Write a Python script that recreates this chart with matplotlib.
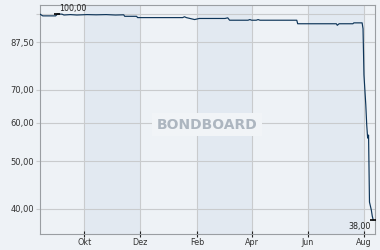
import numpy as np
import pandas as pd
import matplotlib
matplotlib.use("Agg")
from matplotlib import pyplot as plt

# price history (percent of nominal)
dates = ["2022-08-14", "2022-08-17", "2022-08-31", "2022-09-02", "2022-09-07",
         "2022-09-09", "2022-09-16", "2022-09-23", "2022-10-04", "2022-10-14",
         "2022-10-25", "2022-11-04", "2022-11-13", "2022-11-14", "2022-11-27",
         "2022-11-28", "2022-12-20", "2023-01-16", "2023-01-18", "2023-01-20",
         "2023-01-29", "2023-02-03", "2023-03-03", "2023-03-06", "2023-03-08",
         "2023-03-28", "2023-03-30", "2023-04-01", "2023-04-06", "2023-04-08",
         "2023-04-10", "2023-05-20", "2023-05-21", "2023-07-02", "2023-07-03",
         "2023-07-05", "2023-07-20", "2023-07-21", "2023-07-30", "2023-07-31",
         "2023-08-01", "2023-08-03", "2023-08-04", "2023-08-05", "2023-08-06",
         "2023-08-07", "2023-08-09", "2023-08-10", "2023-08-11"]
prices = [99.9, 99.1, 99.1, 100.0, 99.9,
          99.5, 99.7, 99.5, 99.7, 99.6,
          99.7, 99.5, 99.6, 98.9, 98.9,
          98.3, 98.3, 98.3, 98.7, 98.3,
          97.4, 97.9, 97.9, 98.2, 97.1,
          97.1, 97.4, 97.1, 97.1, 97.4,
          97.1, 97.1, 95.5, 95.5, 94.8,
          95.5, 95.5, 95.9, 95.9, 93.3,
          75.1, 65.2, 59.4, 55.8, 56.6,
          41.3, 39.8, 38.7, 38.0]

ytick_vals = [40, 50, 60, 70, 87.5, 100]
ytick_labels = ["40,00", "50,00", "60,00", "70,00", "87,50", ""]
month_ticks = ["2022-10-01", "2022-12-01", "2023-02-01", "2023-04-01", "2023-06-01", "2023-08-01"]
month_labels = ["Okt", "Dez", "Feb", "Apr", "Jun", "Aug"]

bg = "#eef2f6"
band = "#e2e9f1"
line_col = "#0e3559"
grid_col = "#c9cbcd"

t = pd.to_datetime(dates)
p = np.array(prices)
mt = pd.to_datetime(month_ticks)

fig = plt.figure(figsize=(3.8, 2.5), dpi=100, facecolor=bg)
ax = fig.add_axes([40 / 380, 1 - 234 / 250, 335 / 380, 229 / 250])
ax.set_facecolor(bg)

# shaded bands every other two months
for i in range(0, len(mt) - 1, 2):
    ax.axvspan(mt[i], mt[i + 1], color=band, lw=0, zorder=0)

ax.set_yscale("log")
ax.set_ylim(35.55, 104.3)
ax.set_xlim(pd.Timestamp("2022-08-14"), pd.Timestamp("2023-08-13"))

ax.yaxis.set_major_locator(matplotlib.ticker.FixedLocator(ytick_vals))
ax.yaxis.set_major_formatter(matplotlib.ticker.FixedFormatter(ytick_labels))
ax.yaxis.set_minor_locator(matplotlib.ticker.NullLocator())
ax.set_xticks(mt)
ax.set_xticklabels(month_labels)

ax.grid(True, color=grid_col, lw=0.8, zorder=1)
ax.set_axisbelow(True)

ax.tick_params(axis="y", length=3, width=0.8, color=grid_col, pad=1,
               labelsize=6, labelcolor="#333333")
ax.tick_params(axis="x", direction="inout", length=4, width=0.8, color="#222222",
               pad=1, labelsize=5.8, labelcolor="#333333")
for sp in ax.spines.values():
    sp.set_color("#9a9ea2")
    sp.set_linewidth(0.8)

ax.plot(t, p, color=line_col, lw=0.85, zorder=3)

# max / min markers with labels
imax = int(np.argmax(p))
imin = int(np.argmin(p))
ax.plot(t[imax], p[imax], marker="_", ms=5, mew=1.2, color="black", zorder=4)
ax.plot(t[imin], p[imin], marker="_", ms=5, mew=1.2, color="black", zorder=4)
ax.annotate(f"{p[imax]:.2f}".replace(".", ","), (t[imax], p[imax]),
            xytext=(1.5, 1), textcoords="offset points", ha="left", va="bottom",
            fontsize=5.8, color="#222222")
ax.annotate(f"{p[imin]:.2f}".replace(".", ","), (t[imin], p[imin]),
            xytext=(-2, -1.5), textcoords="offset points", ha="right", va="top",
            fontsize=5.8, color="#222222")

# watermark
ax.text(0.498, 0.478, "BONDBOARD", transform=ax.transAxes, ha="center", va="center",
        fontsize=10, fontweight="bold", color="#adb6c0", zorder=2,
        bbox=dict(facecolor="#f1f4f7", edgecolor="none", pad=3.5))

plt.savefig("out.png", dpi=100, facecolor=bg)
